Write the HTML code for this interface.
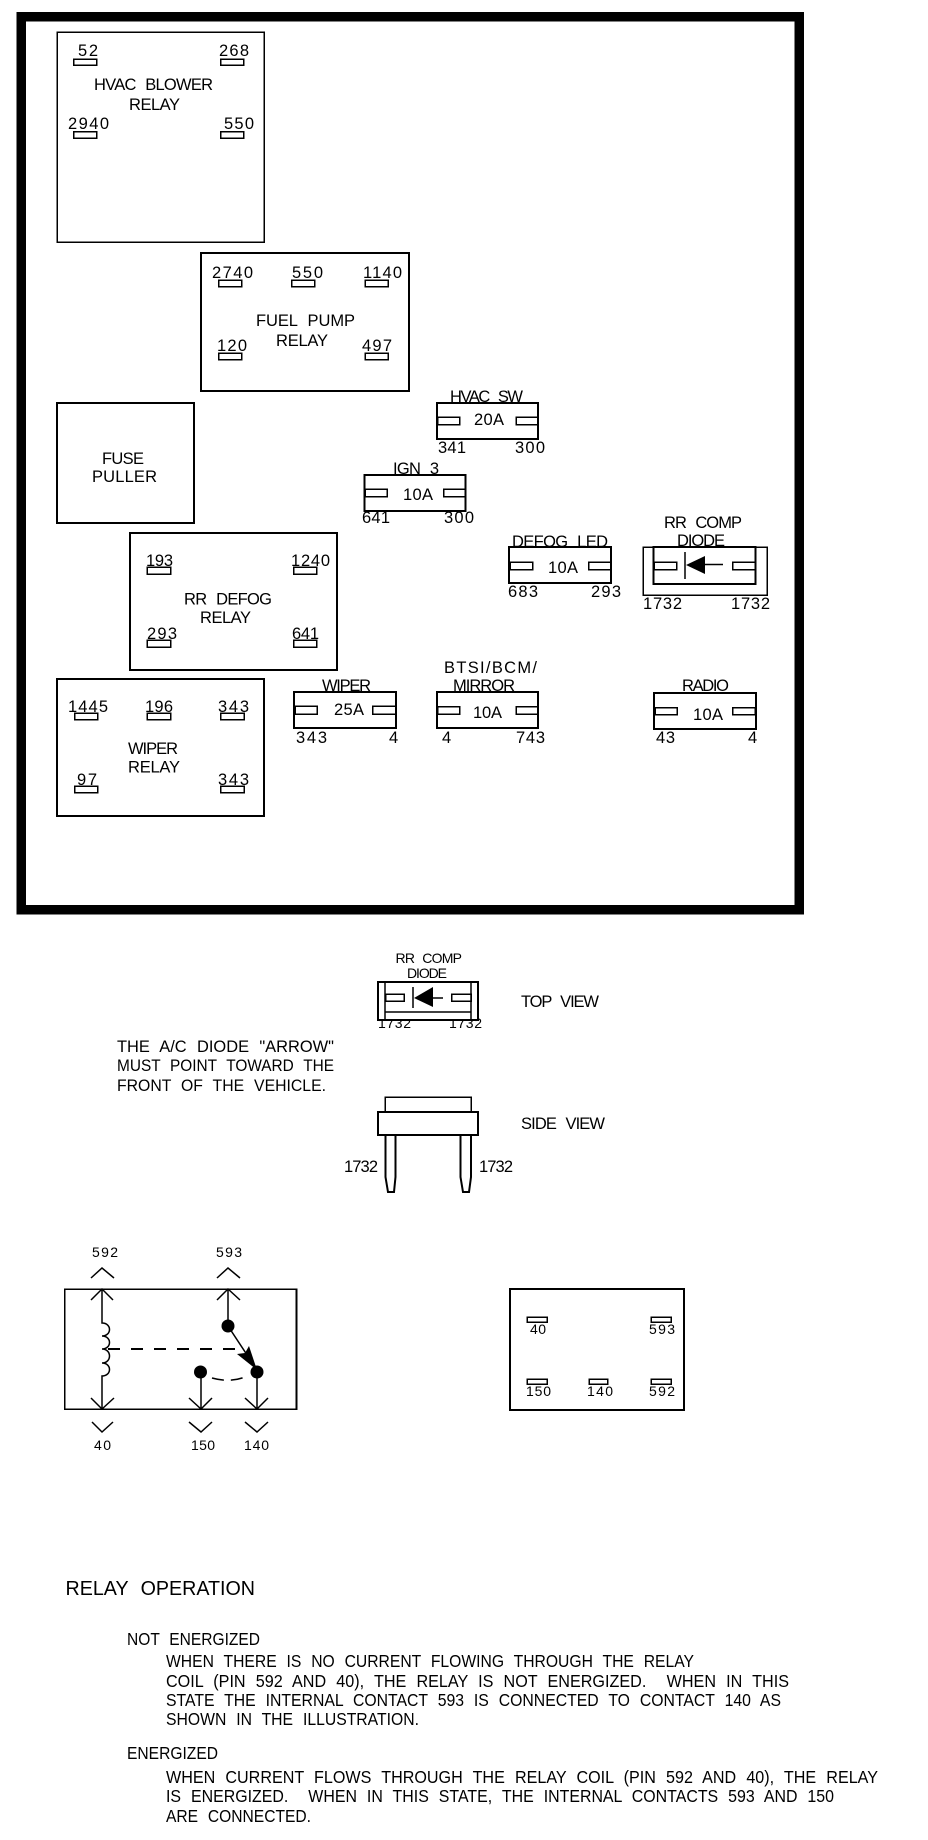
<!DOCTYPE html>
<html><head><meta charset="utf-8"><style>
html,body{margin:0;padding:0;background:#fff}
svg{display:block}
text{font-family:"Liberation Sans",sans-serif;font-size:16.5px;fill:#000;white-space:pre;word-spacing:.35em}
.s{font-size:14px}.m{font-size:17.5px}.b{font-size:20.5px}
rect,.l{fill:none;stroke:#000;stroke-width:1.5}
rect{shape-rendering:crispEdges}
.w{fill:#fff}
</style></head><body>
<svg xmlns="http://www.w3.org/2000/svg" width="928" height="1840" viewBox="0 0 928 1840">
<!-- frame -->
<rect x="21" y="16.5" width="778" height="893" style="stroke-width:9.5"/>
<!-- HVAC blower -->
<rect x="57" y="32" width="207" height="210"/>
<rect x="73.5" y="59" width="23" height="6"/><rect x="220.5" y="59" width="23" height="6"/>
<rect x="73.5" y="131.5" width="23" height="6.5"/><rect x="220.5" y="131.5" width="23" height="6.5"/>
<text x="78" y="56" textLength="20">52</text>
<text x="219" y="56" textLength="30">268</text>
<text x="94" y="90" textLength="119">HVAC BLOWER</text>
<text x="129" y="110" textLength="51">RELAY</text>
<text x="68" y="129" textLength="41">2940</text>
<text x="224" y="129" textLength="30">550</text>
<!-- Fuel pump -->
<rect x="201" y="253" width="208" height="138" style="stroke-width:2"/>
<rect x="218.5" y="280" width="23" height="6.5"/><rect x="291.5" y="280" width="23" height="6.5"/><rect x="365" y="280" width="23" height="6.5"/>
<rect x="218.5" y="353" width="23" height="6.5"/><rect x="365" y="353" width="23" height="6.5"/>
<text x="212" y="278" textLength="41">2740</text>
<text x="292" y="278" textLength="31">550</text>
<text x="363" y="278" textLength="39">1140</text>
<text x="217" y="351" textLength="30">120</text>
<text x="362" y="351" textLength="30">497</text>
<text x="256" y="326" textLength="99">FUEL PUMP</text>
<text x="276" y="346" textLength="52">RELAY</text>
<!-- Fuse puller -->
<rect x="57" y="403" width="137" height="120" style="stroke-width:2"/>
<text x="102" y="464" textLength="42">FUSE</text>
<text x="92" y="482" textLength="65">PULLER</text>
<!-- RR defog -->
<rect x="130" y="533" width="207" height="137" style="stroke-width:2"/>
<rect x="147" y="567" width="23.5" height="7"/><rect x="293.5" y="567" width="23" height="7"/>
<rect x="147" y="640" width="23.5" height="7"/><rect x="293.5" y="640" width="23" height="7"/>
<text x="146" y="566" textLength="27">193</text>
<text x="291" y="566" textLength="39">1240</text>
<text x="147" y="639" textLength="30">293</text>
<text x="292" y="639" textLength="27">641</text>
<text x="184" y="604.5" textLength="88">RR DEFOG</text>
<text x="200" y="623" textLength="51">RELAY</text>
<!-- Wiper relay -->
<rect x="57" y="679" width="207" height="137" style="stroke-width:2"/>
<rect x="74.5" y="713" width="23" height="6.5"/><rect x="147" y="713" width="23.5" height="6.5"/><rect x="220.5" y="713" width="23.5" height="6.5"/>
<rect x="74.5" y="786" width="23" height="6.5"/><rect x="220.5" y="786" width="23.5" height="6.5"/>
<text x="68" y="712" textLength="40">1445</text>
<text x="145" y="712" textLength="28">196</text>
<text x="218" y="712" textLength="31">343</text>
<text x="77" y="785" textLength="20">97</text>
<text x="218" y="785" textLength="31">343</text>
<text x="128" y="754" textLength="50">WIPER</text>
<text x="128" y="772.5" textLength="52">RELAY</text>
<!-- HVAC SW fuse -->
<rect x="437" y="403" width="101" height="36" style="stroke-width:2"/>
<rect x="437.5" y="417" width="22" height="7.5"/><rect x="516" y="417" width="22" height="7.5"/>
<text x="474" y="425" textLength="30">20A</text>
<text x="450" y="402" textLength="73">HVAC SW</text>
<text x="438" y="453" textLength="28">341</text>
<text x="515" y="453" textLength="30">300</text>
<!-- IGN 3 fuse -->
<rect x="364.5" y="475" width="101" height="36" style="stroke-width:2"/>
<rect x="365" y="489" width="22" height="7.5"/><rect x="443.5" y="489" width="22" height="7.5"/>
<text x="403" y="500" textLength="30">10A</text>
<text x="393" y="474" textLength="46">IGN 3</text>
<text x="362" y="523" textLength="28">641</text>
<text x="444" y="523" textLength="30">300</text>
<!-- DEFOG LED fuse -->
<rect x="509" y="547" width="102" height="36" style="stroke-width:2"/>
<rect x="510" y="562" width="22.5" height="7.5"/><rect x="588.5" y="562" width="22" height="7.5"/>
<text x="548" y="573" textLength="30">10A</text>
<text x="512" y="547" textLength="96">DEFOG LED</text>
<text x="508" y="597" textLength="30">683</text>
<text x="591" y="597" textLength="30">293</text>
<!-- RR comp diode -->
<rect x="643" y="547" width="124" height="48"/>
<rect x="653.5" y="547" width="102" height="37" style="stroke-width:2"/>
<rect x="654" y="562" width="22.5" height="7.5"/><rect x="732.5" y="562" width="22.5" height="7.5"/>
<path class="l" d="M685 552V579M705 564.5H723"/>
<path d="M686 565L705 556V574Z" fill="#000"/>
<text x="664" y="528" textLength="78">RR COMP</text>
<text x="677" y="546" textLength="48">DIODE</text>
<text x="643" y="609" textLength="39">1732</text>
<text x="731" y="609" textLength="39">1732</text>
<!-- Wiper fuse -->
<rect x="294" y="692" width="102" height="36" style="stroke-width:2"/>
<rect x="295" y="706" width="22" height="8"/><rect x="372.5" y="706" width="23" height="8"/>
<text x="334" y="715" textLength="30">25A</text>
<text x="322" y="691" textLength="49">WIPER</text>
<text x="296" y="743" textLength="31">343</text>
<text x="389" y="743">4</text>
<!-- BTSI fuse -->
<rect x="437" y="692" width="101" height="36" style="stroke-width:2"/>
<rect x="437.5" y="706.5" width="22" height="7.5"/><rect x="516" y="706.5" width="22" height="7.5"/>
<text x="473" y="718" textLength="29">10A</text>
<text x="444" y="673" textLength="93">BTSI/BCM/</text>
<text x="453" y="691" textLength="62">MIRROR</text>
<text x="442" y="743">4</text>
<text x="516" y="743" textLength="29">743</text>
<!-- Radio fuse -->
<rect x="654" y="693" width="102" height="36" style="stroke-width:2"/>
<rect x="655" y="707.5" width="22" height="7"/><rect x="732.5" y="707.5" width="22.5" height="7"/>
<text x="693" y="720" textLength="30">10A</text>
<text x="682" y="691" textLength="47">RADIO</text>
<text x="656" y="743" textLength="19">43</text>
<text x="748" y="743">4</text>
<!-- Top view -->
<text class="s" x="395.5" y="963" textLength="66.5">RR COMP</text>
<text class="s" x="407" y="978" textLength="40">DIODE</text>
<text class="s" x="378" y="1028" textLength="33">1732</text>
<text class="s" x="449" y="1028" textLength="33">1732</text>
<rect class="w" x="378" y="982" width="100" height="38" style="stroke-width:2"/>
<path class="l" d="M385 982V1020M471 982V1020M385 1012H471"/>
<rect x="385.5" y="994" width="18.5" height="7"/><rect x="451.5" y="994" width="19.5" height="7"/>
<path class="l" d="M413 987V1008M433 998H443"/>
<path d="M414 998L433 987V1007Z" fill="#000"/>
<text x="521" y="1007" textLength="78">TOP VIEW</text>
<text x="521" y="1129" textLength="84">SIDE VIEW</text>
<text x="117" y="1052" textLength="217" lengthAdjust="spacingAndGlyphs">THE A/C DIODE "ARROW"</text>
<text x="117" y="1071" textLength="217" lengthAdjust="spacingAndGlyphs">MUST POINT TOWARD THE</text>
<text x="117" y="1091" textLength="209" lengthAdjust="spacingAndGlyphs">FRONT OF THE VEHICLE.</text>
<!-- Side view -->
<rect x="385" y="1097" width="86" height="15"/>
<rect x="378" y="1112" width="100" height="23" style="stroke-width:2"/>
<path class="l" style="stroke-width:2" d="M385.5 1135V1177L388 1192H394L395.5 1177V1135M460.5 1135V1177L463 1192H469L471 1177V1135"/>
<text x="344" y="1172" textLength="34">1732</text>
<text x="479" y="1172" textLength="34">1732</text>
<!-- Schematic -->
<rect x="64.5" y="1289" width="232" height="120"/>
<path class="l" d="M296.5 1289V1409" style="stroke-width:2"/>
<text class="s" x="92" y="1257" textLength="26">592</text>
<text class="s" x="216" y="1257" textLength="26">593</text>
<path class="l" d="M91 1278L102 1268L114 1278M91 1300L102 1289L113 1300M217 1278L228 1268L240 1278M217 1300L228 1289L240 1300"/>
<path class="l" d="M91 1398L102 1409L114 1398M92 1422L102 1432L113 1422M189 1398L201 1409L212 1398M189 1422L201 1432L212 1422M245 1398L257 1409L268 1398M245 1422L257 1432L268 1422"/>
<path class="l" d="M102 1289V1323C112 1323 112 1336 102 1336C112 1336 112 1349 102 1349C112 1349 112 1363 102 1363C112 1363 112 1376 102 1376V1409"/>
<path class="l" d="M228 1289V1326L255 1367M201 1372V1409M257 1372V1409"/>
<path class="l" style="stroke-width:2;stroke-dasharray:12 11" d="M108 1349H244"/>
<path class="l" style="stroke-width:1.5;stroke-dasharray:12 7" d="M212 1378Q230 1383 245 1377"/>
<path d="M257 1370L237 1354L245 1353L249 1346Z" fill="#000"/>
<circle cx="228" cy="1326" r="6.5" fill="#000"/>
<circle cx="200.5" cy="1372" r="6.5" fill="#000"/>
<circle cx="257" cy="1372" r="6.5" fill="#000"/>
<text class="s" x="94" y="1450" textLength="17">40</text>
<text class="s" x="191" y="1450" textLength="24">150</text>
<text class="s" x="244" y="1450" textLength="25">140</text>
<!-- Pin box -->
<rect x="510" y="1289" width="174" height="121" style="stroke-width:2"/>
<rect x="527" y="1317" width="20" height="5"/><rect x="651" y="1317" width="20" height="5"/>
<rect x="527" y="1379" width="20" height="5"/><rect x="589" y="1379" width="18.5" height="5"/><rect x="651" y="1379" width="20" height="5"/>
<text class="s" x="530" y="1334" textLength="16">40</text>
<text class="s" x="649" y="1334" textLength="26">593</text>
<text class="s" x="526" y="1396" textLength="25">150</text>
<text class="s" x="587" y="1396" textLength="26">140</text>
<text class="s" x="649" y="1396" textLength="26">592</text>
<!-- Text -->
<text class="b" x="65.5" y="1595" textLength="189.5" lengthAdjust="spacingAndGlyphs">RELAY OPERATION</text>
<text class="m" x="127" y="1645" textLength="133" lengthAdjust="spacingAndGlyphs">NOT ENERGIZED</text>
<text class="m" x="166" y="1667" textLength="528" lengthAdjust="spacingAndGlyphs">WHEN THERE IS NO CURRENT FLOWING THROUGH THE RELAY</text>
<text class="m" x="166" y="1687" textLength="623" lengthAdjust="spacingAndGlyphs">COIL (PIN 592 AND 40), THE RELAY IS NOT ENERGIZED.  WHEN IN THIS</text>
<text class="m" x="166" y="1706" textLength="615" lengthAdjust="spacingAndGlyphs">STATE THE INTERNAL CONTACT 593 IS CONNECTED TO CONTACT 140 AS</text>
<text class="m" x="166" y="1725" textLength="253" lengthAdjust="spacingAndGlyphs">SHOWN IN THE ILLUSTRATION.</text>
<text class="m" x="127" y="1759" textLength="91" lengthAdjust="spacingAndGlyphs">ENERGIZED</text>
<text class="m" x="166" y="1783" textLength="712" lengthAdjust="spacingAndGlyphs">WHEN CURRENT FLOWS THROUGH THE RELAY COIL (PIN 592 AND 40), THE RELAY</text>
<text class="m" x="166" y="1802" textLength="668" lengthAdjust="spacingAndGlyphs">IS ENERGIZED.  WHEN IN THIS STATE, THE INTERNAL CONTACTS 593 AND 150</text>
<text class="m" x="166" y="1822" textLength="145" lengthAdjust="spacingAndGlyphs">ARE CONNECTED.</text>
</svg>
</body></html>
